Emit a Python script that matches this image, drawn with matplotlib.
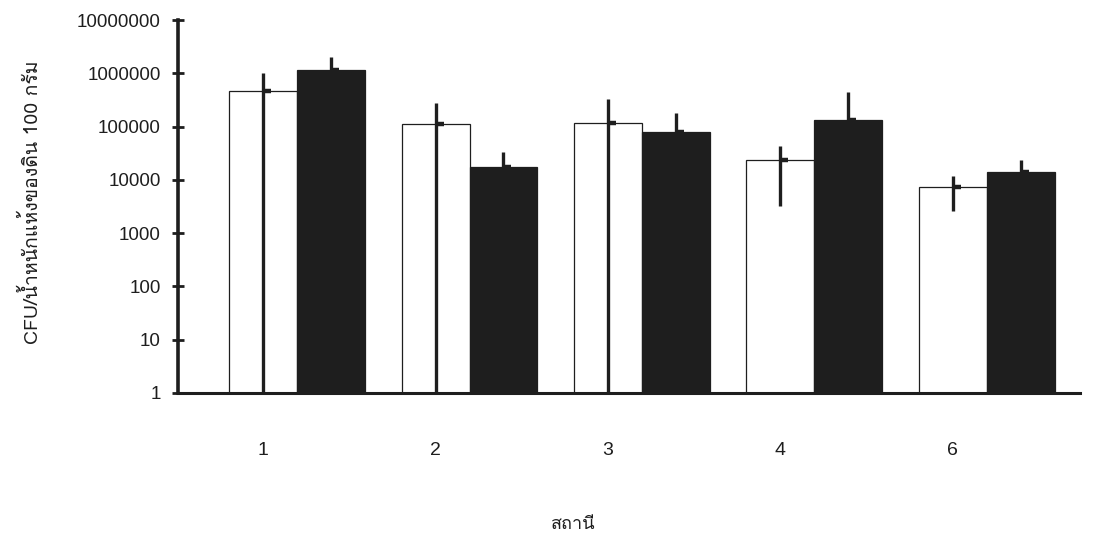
import numpy as np
import matplotlib
matplotlib.use("Agg")
import matplotlib.pyplot as plt
from matplotlib import font_manager
from fontTools.ttLib import TTFont

# Stations and colony counts (CFU per 100 g dry soil)
stations = ["1", "2", "3", "4", "6"]
open_mean = [460000, 112000, 118000, 24000, 7300]
open_hi = [1000000, 280000, 330000, 43000, 11700]
open_lo = [1, 1, 1, 3200, 2600]
filled_mean = [1150000, 17800, 78000, 134000, 13800]
filled_hi = [2000000, 33000, 180000, 440000, 24000]

y_ticks = [1, 10, 100, 1000, 10000, 100000, 1000000, 10000000]
y_label = "CFU/น้ำหนักแห้งของดิน 100 กรัม"
x_label = "สถานี"


def find_family(sample):
    for f in font_manager.fontManager.ttflist:
        try:
            tt = TTFont(f.fname, fontNumber=0, lazy=True)
            cmap = tt.getBestCmap() or {}
            if all(ord(c) in cmap for c in sample if not c.isspace()):
                return f.name
        except Exception:
            continue
    return None


thai = find_family("สถานีน้ำหนักแห้งของดินกรัม")
thai_fam = [thai, "Liberation Sans", "DejaVu Sans"] if thai else ["DejaVu Sans"]
num_fam = ["Liberation Sans", "DejaVu Sans"]

ink = "#1e1e1e"
fig = plt.figure(figsize=(11.1, 5.41), dpi=100)
ax = fig.add_axes([0.1604, 0.2736, 0.8126, 0.6894])

x = np.arange(len(stations))
w = 0.394
xo = x - w / 2
xf = x + w / 2

ax.bar(xo, open_mean, width=w, bottom=0, color="white", edgecolor=ink,
       linewidth=0.9, zorder=2)
ax.bar(xf, filled_mean, width=w, bottom=0, color=ink, edgecolor=ink,
       linewidth=0.9, zorder=2)

om = np.array(open_mean, float)
fm = np.array(filled_mean, float)
ax.errorbar(xo, om, yerr=[om - np.array(open_lo), np.array(open_hi) - om],
            fmt="none", ecolor=ink, elinewidth=2.4, capsize=0, zorder=3)
ax.errorbar(xf, fm, yerr=[np.zeros_like(fm), np.array(filled_hi) - fm],
            fmt="none", ecolor=ink, elinewidth=2.4, capsize=0, zorder=3)

stub = [(0, 0), (1, 0)]
ax.plot(xo, om, linestyle="none", marker=stub, markersize=11,
        markeredgewidth=3.2, color=ink, zorder=4)
ax.plot(xf, fm, linestyle="none", marker=stub, markersize=11,
        markeredgewidth=3.2, color=ink, zorder=4)

ax.set_yscale("log")
ax.set_ylim(1, 10000000)
ax.set_xlim(-0.69, 4.54)
ax.set_yticks(y_ticks)
ax.set_yticklabels([str(v) for v in y_ticks], fontfamily=num_fam,
                   fontsize=13.5, color=ink)
ax.yaxis.set_minor_locator(matplotlib.ticker.NullLocator())
ax.tick_params(axis="y", direction="inout", length=9, width=2, color=ink,
               pad=8)

ax.set_xticks(xo)
ax.set_xticklabels(stations, fontfamily=num_fam, fontsize=14, color=ink)
ax.tick_params(axis="x", length=0, pad=35)

for s in ["top", "right"]:
    ax.spines[s].set_visible(False)
ax.spines["left"].set_linewidth(2.6)
ax.spines["bottom"].set_linewidth(2.2)
ax.spines["left"].set_color(ink)
ax.spines["bottom"].set_color(ink)

ax.set_ylabel(y_label, fontfamily=thai_fam, fontsize=14, color=ink,
              va="center")
ax.yaxis.set_label_coords(-0.162, 0.512)
ax.text(0.438, -0.35, x_label, transform=ax.transAxes, ha="center",
        va="center", fontfamily=thai_fam, fontsize=13, color=ink)

fig.savefig("out.png", dpi=100, facecolor="white")
